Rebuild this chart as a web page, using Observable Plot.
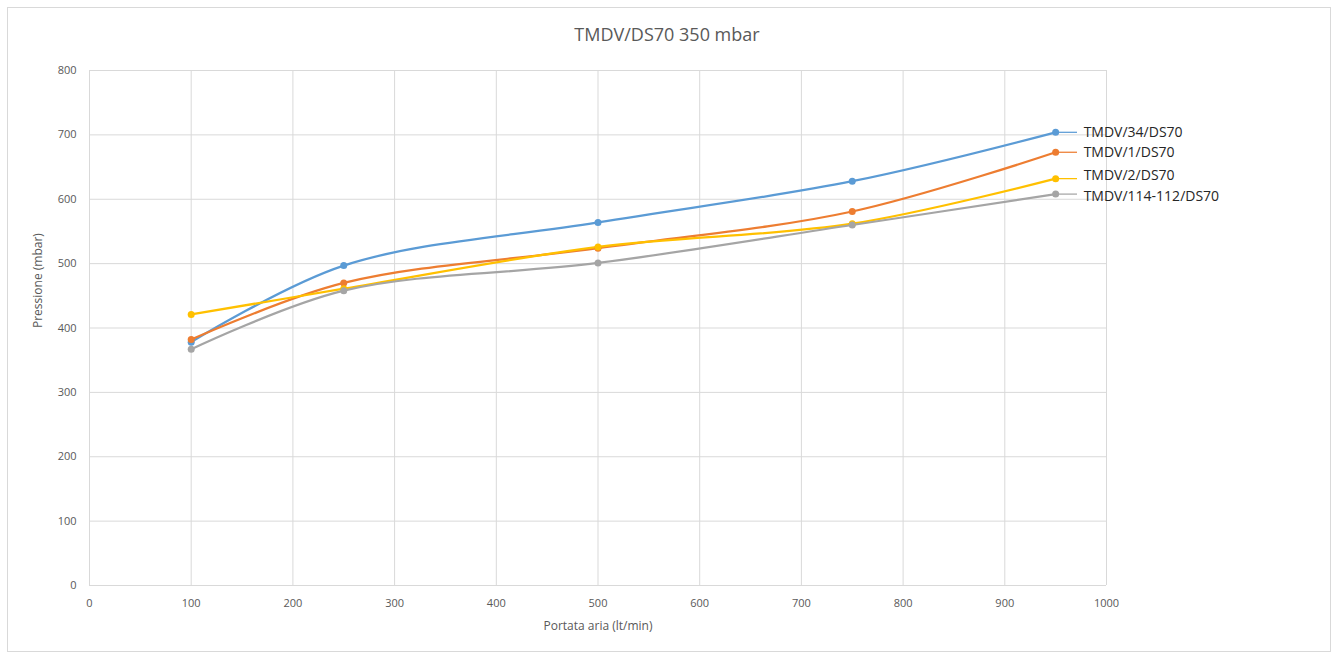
<!DOCTYPE html>
<html>
<head>
<meta charset="utf-8">
<script src="https://cdn.jsdelivr.net/npm/d3@7"></script>
<script src="https://cdn.jsdelivr.net/npm/@observablehq/plot@0.6"></script>
<style>
  html, body { margin: 0; padding: 0; background: #fff; }
  #wrap { position: relative; width: 1334px; height: 657px; overflow: hidden; }
  #frame { position: absolute; left: 7px; top: 7px; width: 1324px; height: 645px; border: 1px solid #d9d9d9; box-sizing: border-box; }
  #title { position: absolute; left: 0; width: 1334px; top: 22px; text-align: center; font-family: "Open Sans", sans-serif; font-size: 18px; color: #595959; }
  #chart { position: absolute; left: 0; top: 55px; }
</style>
</head>
<body>
<div id="wrap">
  <div id="frame"></div>
  <div id="title">TMDV/DS70 350 mbar</div>
  <div id="chart"></div>
</div>
<script>
const flow = [100, 250, 500, 750, 950];
const seriesNames = ["TMDV/34/DS70", "TMDV/1/DS70", "TMDV/2/DS70", "TMDV/114-112/DS70"];
const s34 = [378, 497, 564, 628, 704];
const s1 = [382, 470, 524, 581, 673];
const s2 = [421, 461, 526, 562, 632];
const s114 = [367, 458, 501, 560, 608];
const colors = ["#5b9bd5", "#ed7d31", "#ffc000", "#a5a5a5"];
const xTicks = [0, 100, 200, 300, 400, 500, 600, 700, 800, 900, 1000];
const yTicks = [0, 100, 200, 300, 400, 500, 600, 700, 800];
const labelNudges = [0, 0, -3, 2]; // vertical label nudges in px

const valuesBySeries = [s34, s1, s2, s114];
const rows = [];
seriesNames.forEach((name, i) => {
  flow.forEach((f, j) => rows.push({series: name, flow: f, p: valuesBySeries[i][j]}));
});
const lastRows = seriesNames.map((name, i) => ({series: name, flow: flow[flow.length - 1], p: valuesBySeries[i][flow.length - 1], idx: i}));

const font = "'Open Sans', sans-serif";
const labelMarks = lastRows.map(d => Plot.text([d], {x: "flow", y: "p", text: "series", dx: 28, dy: labelNudges[d.idx], textAnchor: "start", fill: "#262626", fontSize: 14}));

const plot = Plot.plot({
  width: 1334,
  height: 600,
  marginLeft: 89,
  marginRight: 228,
  marginTop: 15,
  marginBottom: 70,
  style: {fontFamily: font, fontSize: "11px", color: "#595959", background: "transparent"},
  x: {domain: [0, 1000], ticks: xTicks, label: null},
  y: {domain: [0, 800], ticks: yTicks, label: null},
  color: {domain: seriesNames, range: colors},
  marks: [
    Plot.ruleX(xTicks, {stroke: "#d9d9d9", strokeWidth: 1}),
    Plot.ruleY(yTicks, {stroke: "#d9d9d9", strokeWidth: 1}),
    Plot.axisX({ticks: xTicks, tickFormat: d => String(d), tickSize: 0, tickPadding: 14, fill: "#595959", fontSize: 11, label: null}),
    Plot.axisY({ticks: yTicks, tickFormat: d => String(d), tickSize: 0, tickPadding: 13, fill: "#595959", fontSize: 11, label: null}),
    Plot.text(["Portata aria (lt/min)"], {frameAnchor: "bottom", dy: 44, fill: "#595959", fontSize: 12}),
    Plot.text(["Pressione (mbar)"], {frameAnchor: "left", dx: -51, rotate: -90, fill: "#595959", fontSize: 12}),
    Plot.line(rows, {x: "flow", y: "p", z: "series", stroke: "series", strokeWidth: 2.25, curve: "catmull-rom"}),
    Plot.dot(rows, {x: "flow", y: "p", fill: "series", r: 3.5}),
    Plot.link(lastRows, {x1: "flow", x2: d => d.flow + 21, y1: "p", y2: "p", stroke: "series", strokeWidth: 1.25}),
    ...labelMarks
  ]
});
document.getElementById("chart").appendChild(plot);
</script>
</body>
</html>
